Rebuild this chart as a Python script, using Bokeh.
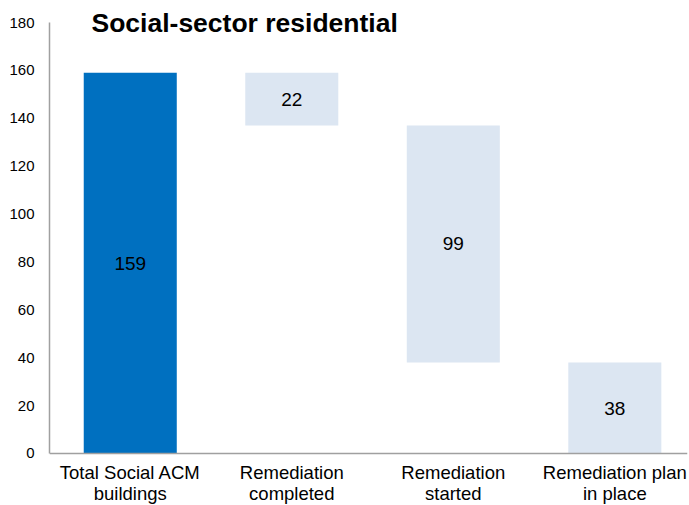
from bokeh.plotting import figure
from bokeh.models import ColumnDataSource, Label, FixedTicker, Range1d, Span
from bokeh.core.properties import value
from bokeh.embed import file_html
from bokeh.resources import INLINE

categories = ["Total Social ACM\nbuildings", "Remediation\ncompleted", "Remediation\nstarted", "Remediation plan\nin place"]
values = [159, 22, 99, 38]
kinds = ["total", "step", "step", "step"]
y_ticks = [0, 20, 40, 60, 80, 100, 120, 140, 160, 180]
title_text = "Social-sector residential"

# waterfall geometry derived from values
bottoms, tops = [], []
running = values[0]
for v, k in zip(values, kinds):
    if k == "total":
        bottoms.append(0); tops.append(v)
    else:
        tops.append(running); bottoms.append(running - v); running -= v
xs = list(range(len(categories)))
colors = ["#0070C0" if k == "total" else "#DCE6F2" for k in kinds]
mids = [(b + t) / 2 for b, t in zip(bottoms, tops)]
src = ColumnDataSource(dict(x=xs, top=tops, bottom=bottoms, color=colors, mid=mids,
                            label=[str(v) for v in values], cat=categories,
                            zero=[0] * len(xs)))

p = figure(width=689, height=505, output_backend="svg", toolbar_location=None,
           x_range=Range1d(-0.5, 3.45), y_range=Range1d(-21.72, 185.85),
           min_border_left=49, min_border_right=2, min_border_top=8, min_border_bottom=0)
p.outline_line_color = None
p.xgrid.visible = False
p.ygrid.visible = False
p.xaxis.visible = False

p.vbar(x="x", top="top", bottom="bottom", width=0.576, color="color", line_color=None, source=src)
p.text(x="x", y="mid", text="label", source=src, text_align="center", text_baseline="middle",
       text_font=value("Liberation Sans"), text_font_size="19px", text_color="black")

# category labels below the zero line
p.text(x="x", y="zero", text="cat", source=src, text_align="center", text_baseline="top",
       y_offset=9, text_line_height=1.0,
       text_font=value("Liberation Sans"), text_font_size="18.5px", text_color="black")

# baseline (x axis line)
p.add_layout(Span(location=0, dimension="width", line_color="#A0A0A0", line_width=1.5))

p.yaxis.ticker = FixedTicker(ticks=y_ticks)
p.yaxis.bounds = (0, 180)
ax = p.yaxis[0]
ax.axis_line_color = "#A0A0A0"
ax.axis_line_width = 1.5
ax.major_tick_line_color = None
ax.minor_tick_line_color = None
ax.major_tick_out = 0
ax.major_tick_in = 0
ax.minor_tick_out = 0
ax.major_label_text_font = "Liberation Sans"
ax.major_label_text_color = "black"
ax.major_label_text_font_size = "15px"
ax.major_label_standoff = 15

p.add_layout(Label(x=-0.24, y=179.6, text=title_text,
                   text_font="Liberation Sans", text_font_size="26.5px", text_font_style="bold",
                   text_color="black", text_baseline="alphabetic"))

open("out.html", "w").write(file_html(p, INLINE))
